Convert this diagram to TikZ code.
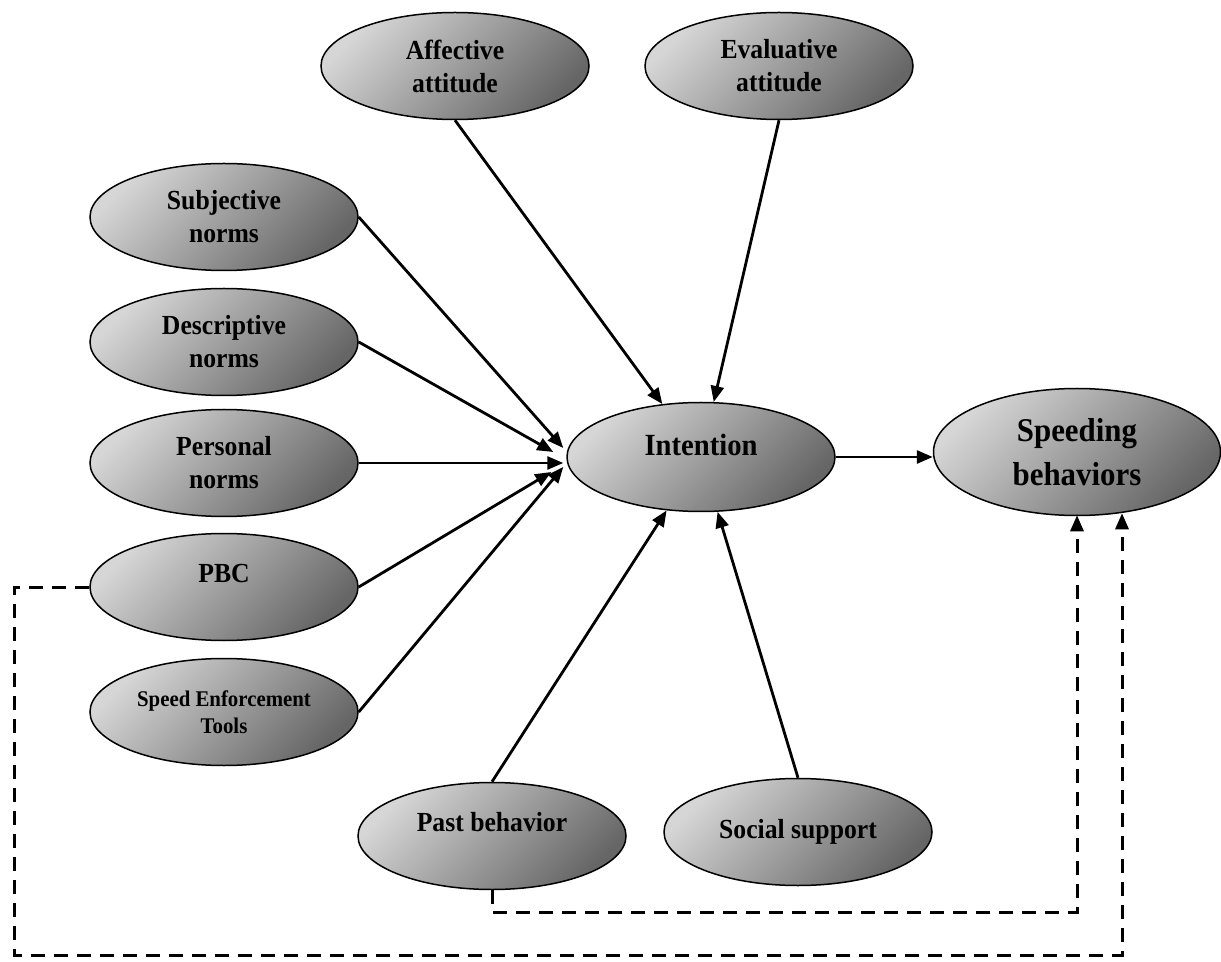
\documentclass[tikz,border=0pt]{standalone}
\usepackage{fontspec}
\setmainfont{Liberation Serif}[FakeStretch=0.93]
\usetikzlibrary{shapes.geometric,arrows.meta,calc}

\tikzset{
  factor/.style={ellipse, draw=black, line width=0.75pt,
    top color=black!16, bottom color=black!60, shading angle=45,
    minimum width=134pt, minimum height=53.5pt, inner sep=0pt,
    align=center, font=\fontsize{13.8}{16.5}\selectfont\bfseries},
  link/.style={line width=1.4pt, -{Triangle[length=8pt,width=6.5pt]}},
  feedback/.style={link, line width=1.5pt, dash pattern=on 7pt off 4.5pt},
}

\begin{document}
\begin{tikzpicture}[x=0.5pt, y=-0.5pt]
\useasboundingbox (0,0) rectangle (1221,962);

    % predictors of intention
    \node [factor] (aff) at (455,66) {Affective\\attitude};
    \node [factor] (eva) at (779,66) {Evaluative\\attitude};
    \node [factor] (sub) at (224,217) {Subjective\\norms};
    \node [factor] (des) at (224,342) {Descriptive\\norms};
    \node [factor] (per) at (224,463) {Personal\\norms};
    \node [factor, text depth=14pt] (pbc) at (224,587) {PBC};
    \node [factor, font=\fontsize{11.2}{13.5}\selectfont\bfseries] (set) at (224,712) {Speed Enforcement\\Tools};
    \node [factor, text depth=14pt] (past) at (492,836) {Past behavior};
    \node [factor] (soc) at (798,832) {Social support};

    % intention and behavior
    \node [factor, minimum height=54.5pt, text depth=12pt,
           font=\fontsize{15.4}{17}\selectfont\bfseries] (int) at (701,457) {Intention};
    \node [factor, minimum width=143.5pt, minimum height=63.5pt,
           font=\fontsize{16.6}{22}\selectfont\bfseries] (spd) at (1077,452) {Speeding\\behaviors};

    \draw [link] (aff.south) -- (int);
    \draw [link] (eva.south) -- (int);
    \draw [link] (sub.east) -- ($(int.west)+(-3,-9)$);
    \draw [link] (des.east) -- ($(int.west)+(-13,-5)$);
    \draw [link] (per.east) -- ($(int.west)+(-3,6)$);
    \draw [link] (pbc.east) -- ($(int.west)+(-15,15)$);
    \draw [link] (set.east) -- ($(int.west)+(-3,10)$);
    \draw [link] (past.north) -- (int);
    \draw [link] (soc.north) -- (int);
    \draw [link] (int.east) -- (spd.west |- int.east);

    % direct paths to behavior
    \coordinate (corner) at (14,955);
    \draw [feedback] (past.south) -- ++(0,22) -| ($(spd.south)+(0,-1)$);
    \draw [feedback] (pbc.west) -| (corner) -| ($(spd.south)+(45,-3)$);
\end{tikzpicture}
\end{document}
